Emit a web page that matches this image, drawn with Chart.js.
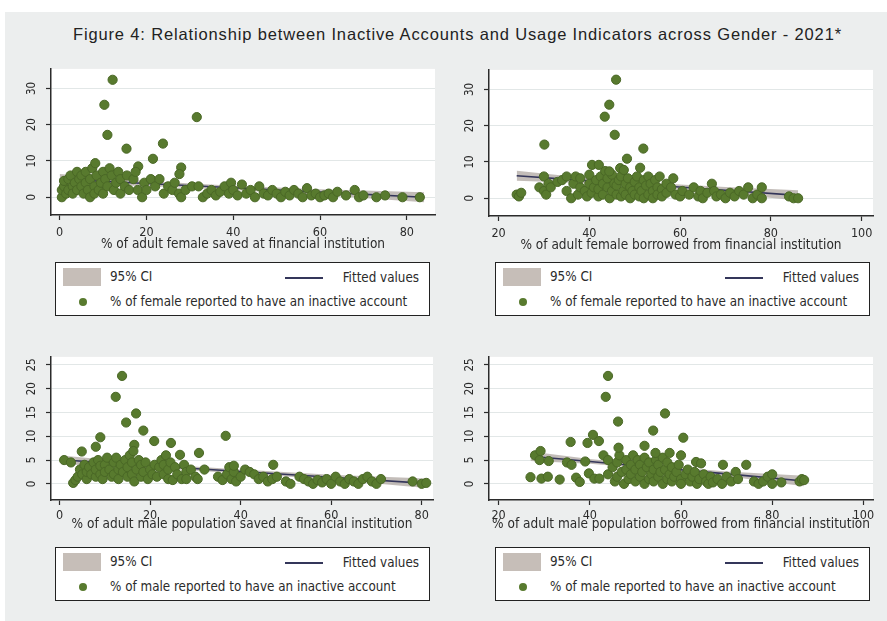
<!DOCTYPE html>
<html lang="en">
<head>
<meta charset="UTF-8">
<title>Figure 4</title>
<script src="https://cdn.jsdelivr.net/npm/chart.js"></script>
<style>
  body { margin:0; width:887px; height:621px; background:#fff; position:relative; overflow:hidden;
         font-family:"DejaVu Sans Condensed","Liberation Sans Narrow","Liberation Sans",sans-serif; color:#2b2b2b; }
  .frame { position:absolute; left:5px; top:12px; width:882px; height:609px; background:#eceeee; }
  .title { position:absolute; left:14px; top:25px; width:887px; text-align:center;
           font:16.5px "Liberation Sans", Arial, sans-serif; letter-spacing:0.85px; color:#222; }
  canvas { position:absolute; }
  .legend { position:absolute; width:375px; height:54px; background:#fff; border:1.5px solid #222;
            box-sizing:border-box; font-size:13.3px; }
  .legend .ci { position:absolute; left:7px; top:5px; width:38px; height:18px; background:#c6beb8; }
  .legend .ln { position:absolute; left:229px; top:14px; width:38px; height:2px; background:#34365a; }
  .legend .dot { position:absolute; left:23px; top:35px; width:8px; height:8px; border-radius:50%; background:#587a2e; }
  .legend span { position:absolute; line-height:15px; white-space:nowrap; }
  .legend .t1 { left:54px; top:6px; }
  .legend .t2 { right:10px; top:7px; }
  .legend .t3 { left:54px; top:31px; }
</style>
</head>
<body>
<div class="frame"></div>
<div class="title">Figure 4: Relationship between Inactive Accounts and Usage Indicators across Gender - 2021*</div>

<canvas id="c1"></canvas>
<canvas id="c2"></canvas>
<canvas id="c3"></canvas>
<canvas id="c4"></canvas>

<div class="legend" style="left:55px;top:262px">
  <div class="ci"></div><span class="t1">95% CI</span>
  <div class="ln"></div><span class="t2">Fitted values</span>
  <div class="dot"></div><span class="t3">% of female reported to have an inactive account</span>
</div>
<div class="legend" style="left:495px;top:262px">
  <div class="ci"></div><span class="t1">95% CI</span>
  <div class="ln"></div><span class="t2">Fitted values</span>
  <div class="dot"></div><span class="t3">% of female reported to have an inactive account</span>
</div>
<div class="legend" style="left:55px;top:547px">
  <div class="ci"></div><span class="t1">95% CI</span>
  <div class="ln"></div><span class="t2">Fitted values</span>
  <div class="dot"></div><span class="t3">% of male reported to have an inactive account</span>
</div>
<div class="legend" style="left:495px;top:547px">
  <div class="ci"></div><span class="t1">95% CI</span>
  <div class="ln"></div><span class="t2">Fitted values</span>
  <div class="dot"></div><span class="t3">% of male reported to have an inactive account</span>
</div>

<script>
// ---- panel 1: female saved at FI vs female inactive accounts
var fSavX = [0.5,0.5,1,1,1.5,2,2,2.5,3,3, 3.5,4,4,4.5,5,5,5.5,6,6,6.5, 7,7,7.5,8,8,8.5,9,9.5,10,10,
  10.5,11,11.5,12,12.5,13,13.5,14,14,15, 15.5,16,
  12.2,10.3,11,31.6,15.4,23.8,21.5,8.2,18.1,28,27.6,
  17,17.5,18,19,19.5,20,21,22,23,24, 25,26,26.5,27.5,28,29,30.5,32,33,34, 35,36,37,38,39,39.5,40,41,42,43,
  44,45,46,47,48,49,50,51,52,53, 54,55,56,57,58,59,60,61,62,63, 64,66,68,69,70,73,75,79,83];
var fSavY = [0,2,3,4.5,1,5,2,6,3,1, 4,7,2,5,3,6,1,4,7,2, 0,5,8,3,1,6,2,4,7,1,
  5,3,8,6,2,4,7,1,5,3, 6,2,
  32.4,25.5,17.2,22.1,13.4,14.8,10.6,9.4,8.5,8.2,6.4,
  5,7,2,0,4,2,5,3,5,1, 3,2,4,1,0,2,3,3,0,1, 2,0.5,1.5,3,1,4,2,0.5,3.5,1,
  2,0,3,1,0.5,2,1,0,1.5,0.5, 2,1,0,2.5,0.5,1,0,0.5,1,0, 1.5,0.5,2,0,0.5,0,0.5,0,0];
var fSavFitX = [0, 20, 40, 60, 84];
var fSavFit  = [5.0, 3.8, 2.6, 1.4, 0.0];
var fSavLo   = [3.6, 3.1, 2.0, 0.6, -1.4];
var fSavHi   = [6.4, 4.5, 3.2, 2.2, 1.4];

// ---- panel 2: female borrowed from FI vs female inactive accounts
var fBorX = [24,24.5,25,29,30,30,30.5,31,31.5,33, 34,35,35,36,36.5,37,37.5,38,38,39,
  39.5,40,40,40.5,41,41.5,42,42,42.5,43, 43,43.5,44,44,44.5,45,45,45.5,46,46,
  46.5,47,47,47.5,48,48,48.5,49,49,49.5, 50,50,50.5,51,51,51.5,52,52,52.5,53,
  53,53.5,54,54,54.5,55,55,55.5,56,56, 57,57,58,58.5,59,60,60.5,62,63,64,
  64.5,65,66,67,67.5,68,69,70,71,72, 73,74,75,76,77,78,78,84,85,86,
  45.9,44.4,43.4,45.6,30.1,51.9,48.3,40.6,42.1,46.8,47.6,51.2,44.4];
var fBorY = [1,0.5,1.5,3,2,6,1,4,3,4.5, 5,6,2,0,4,6,1,3,5.5,2,
  0.5,4,6.5,1.5,3,5,0.5,2.5,6,4, 1,7.5,3,5.5,0,2,6.5,4,1,3.5,
  5,0.5,6,2,4,1,5.5,3,0,2, 4.5,1,6,3,0.5,2,5,0,3.5,1,
  6,4,2,0,5,3,1,6,2.5,0.5, 4,1.5,3,5.5,1,0.5,2,1,3,0.5,
  2,0,1.5,4,2,0.5,1,0,1.5,0.5, 2,1,3,0,1,3,0,0.5,0,0,
  32.7,25.8,22.5,17.5,14.8,13.7,10.9,9.2,9.2,8.3,7.8,8.4,7.4];
var fBorFitX = [24, 40, 55, 70, 86];
var fBorFit  = [6.2, 4.8, 3.5, 2.2, 0.8];
var fBorLo   = [4.8, 4.1, 2.9, 1.3, -0.6];
var fBorHi   = [7.6, 5.5, 4.1, 3.1, 2.2];

// ---- panel 3: male saved at FI vs male inactive accounts
var mSavX = [1,2.5,3,3.5,4,4.5,5,5.5,6,6, 6.5,7,7.5,8,8,8.5,9,9,9.5,10,
  10,10.5,11,11.5,12,12,12.5,13,13,13.5, 14,14.5,15,15,15.5,16,16,16.5,17,17.5,
  18,18,18.5,19,19.5,20,20.5,21,21.5,22, 22.5,23,23,23.5,24,24,24.5,25,25.5,26,
  27,27.5,28,28,29,30,30.5,32,35,36, 37,37.5,38,38.5,39,40,41,42,43,44,
  45,46,47,48,50,51,53,54,55,56, 57,58,59,60,61,62,63,64,65,66, 67,68,69,70,71,78,80,81,
  13.8,12.4,16.9,14.7,18.5,36.7,9,8,20.9,24.6,4.9,30.8,26.6,16.5,16.3,47.2,38.5];
var mSavY = [5,4.5,0.2,0.8,1.5,3,2,4,1,2.5, 3.5,2,4.5,1.5,3,5,2,3.8,1,4,
  2.5,5.5,3,1.5,4.5,2,5.5,3,1,4, 2.5,5,1.5,3.5,6,2,4.5,0.5,3,5,
  1.5,4,2.5,4.5,1,3,2,4,1.5,3.5, 5,2,4,6,1,3,4.5,0.8,3.5,2,
  1,4,2.5,1,3,1.5,1,3,1.5,0.8, 2,3.5,1,2.5,0.5,1.5,3,2.5,2,1,
  1.5,0.5,1,1.5,0.5,0,1.5,1,0.5,0, 0.8,0.3,1,0,1.5,0.5,0,1,0.5,0, 1,1.5,0.5,0,1,0.5,0,0.2,
  22.7,18.3,14.8,12.9,11.2,10.1,9.8,7.8,9,8.6,6.8,6.5,6.1,8.2,6.9,4,3.8];
var mSavFitX = [1, 20, 40, 60, 81];
var mSavFit  = [5.0, 3.8, 2.6, 1.4, 0.1];
var mSavLo   = [4.1, 3.4, 2.2, 0.9, -0.9];
var mSavHi   = [5.9, 4.2, 3.0, 1.9, 1.1];

// ---- panel 4: male borrowed from FI vs male inactive accounts
var mBorX = [27,28,29,29.4,30.8,31,33.4,35,36,37, 37.8,39,39.8,41,42.1,43,44,44,45,45.5,
  46,46,46.5,47,47.5,48,48,48.5,49,49, 49.5,50,50,50.5,51,51,51.5,52,52,52.5,
  53,53,53.5,54,54,54.5,55,55,55.5,56, 56,56.5,57,57,57.5,58,58,58.5,59,59.5,
  60,60,61,61.5,62,62.5,63,63.5,64,65, 65.5,66,66.5,67,68,69,70,71,72,72.5,
  76,77,78,79,80,80,82,86,86.5,87,
  44,43.5,56.5,46.2,53.9,40.7,60.5,35.8,39.5,42,52,46.3,29.2,54.4,57.5,60,69.2,74.3,63.3,64.4];
var mBorY = [1.4,6,5,1.1,1.5,4.8,0.9,4.5,4,1.3, 0.4,4.7,2.2,1.1,1.1,6,5,2,3.5,0.5,
  4.5,1.5,6,2.5,0,5,3,1,4,2, 6,0.5,3,5,1.5,4,2.5,0,5.5,3.5,
  1,4.5,2,3,0.5,5,1.5,4,2.5,0, 5.5,3,1,4.5,2,3.5,0.5,1.5,2.5,4,
  1,0,2,3,0.5,1.5,2.5,0,1,2, 0.5,0,1.5,0.3,1,0,1.5,0.5,2.5,1,
  0.5,0,0.5,1.5,0,2,0.3,0.5,1,0.8,
  22.7,18.3,14.8,13.1,11.2,10.3,9.7,8.8,8.6,9,8,7.6,6.9,6.5,6.5,6,4,4,4.6,4.3];
var mBorFitX = [27, 40, 55, 70, 87];
var mBorFit  = [5.8, 4.7, 3.4, 2.1, 0.6];
var mBorLo   = [4.8, 4.2, 3.0, 1.6, -0.5];
var mBorHi   = [6.8, 5.2, 3.8, 2.6, 1.7];

// tick labels
var xTicksA = [0, 20, 40, 60, 80];
var xTicksB = [20, 40, 60, 80, 100];
var yTicksTop = [0, 10, 20, 30];
var yTicksBot = [0, 5, 10, 15, 20, 25];

var INK = '#2b2b2b';
var GREEN = '#587a2e';
var FONT = '"DejaVu Sans Condensed","Liberation Sans Narrow","Liberation Sans",sans-serif';

var whitePlot = {
  id: 'whitePlot',
  beforeDraw: function (chart) {
    var a = chart.chartArea, ctx = chart.ctx;
    ctx.save();
    ctx.fillStyle = '#ffffff';
    ctx.fillRect(a.left, a.top, a.right - a.left, a.bottom - a.top);
    ctx.restore();
  }
};

function pts(xs, ys) {
  return xs.map(function (x, i) { return {x: x, y: ys[i]}; });
}

function panel(p) {
  var YW = 35, PT = 10, PR = 12;
  var cv = document.getElementById(p.id);
  cv.width = (p.R - p.L) + YW + PR;
  cv.height = (p.B - p.T) + PT + p.xh;
  cv.style.left = (p.L - YW) + 'px';
  cv.style.top = (p.T - PT) + 'px';

  new Chart(cv, {
    type: 'scatter',
    data: {
      datasets: [
        { data: pts(p.xs, p.ys), pointRadius: 4.6, pointHoverRadius: 4.6,
          backgroundColor: GREEN, borderColor: '#4a6826', borderWidth: 1, order: 0 },
        { data: pts(p.fx, p.fy), showLine: true, pointRadius: 0,
          borderColor: '#34365a', borderWidth: 1.6, order: 1 },
        { data: pts(p.fx, p.hi), showLine: true, pointRadius: 0, borderColor: 'rgba(0,0,0,0)',
          borderWidth: 0, fill: '+1', backgroundColor: 'rgba(180,173,167,0.8)', order: 2 },
        { data: pts(p.fx, p.lo), showLine: true, pointRadius: 0, borderColor: 'rgba(0,0,0,0)',
          borderWidth: 0, order: 3 }
      ]
    },
    options: {
      responsive: false,
      animation: false,
      devicePixelRatio: 1,
      layout: { padding: { left: 0, top: PT, right: PR, bottom: 0 } },
      plugins: { legend: { display: false }, tooltip: { enabled: false } },
      scales: {
        x: {
          type: 'linear', min: p.xr[0], max: p.xr[1],
          afterBuildTicks: function (s) { s.ticks = p.xt.map(function (v) { return {value: v}; }); },
          afterFit: function (s) { s.height = p.xh; },
          grid: { drawOnChartArea: false, drawTicks: true, tickLength: 5, tickColor: INK, tickWidth: 1.2 },
          border: { display: true, color: INK, width: 1.5 },
          ticks: { color: INK, font: { family: FONT, size: 12.5 }, padding: p.tp, maxRotation: 0, autoSkip: false },
          title: { display: true, text: p.title, color: INK, font: { family: FONT, size: 13.5 },
                   padding: { top: 0, bottom: 0 } }
        },
        y: {
          type: 'linear', min: p.yr[0], max: p.yr[1],
          afterBuildTicks: function (s) { s.ticks = p.yt.map(function (v) { return {value: v}; }); },
          afterFit: function (s) { s.width = YW; },
          grid: { color: '#e2e7e7', lineWidth: 1, tickLength: 5, tickColor: INK, tickWidth: 1.2 },
          border: { display: true, color: INK, width: 1.5 },
          ticks: { color: INK, font: { family: FONT, size: 11.5 }, minRotation: 90, maxRotation: 90,
                   crossAlign: 'center', padding: 7, autoSkip: false }
        }
      }
    },
    plugins: [whitePlot]
  });
}

panel({ id: 'c1', L: 51, T: 65, R: 435, B: 215, xh: 38, tp: 5,
  xs: fSavX, ys: fSavY, fx: fSavFitX, fy: fSavFit, lo: fSavLo, hi: fSavHi,
  xr: [-2, 86.5], yr: [-4.9, 35.4], xt: xTicksA, yt: yTicksTop,
  title: '% of adult female saved at financial institution' });

panel({ id: 'c2', L: 489, T: 66, R: 873, B: 216, xh: 38, tp: 5,
  xs: fBorX, ys: fBorY, fx: fBorFitX, fy: fBorFit, lo: fBorLo, hi: fBorHi,
  xr: [17.9, 102.5], yr: [-4.9, 35.4], xt: xTicksB, yt: yTicksTop,
  title: '% of adult female borrowed from financial institution' });

panel({ id: 'c3', L: 51, T: 353, R: 433, B: 500, xh: 33, tp: 3,
  xs: mSavX, ys: mSavY, fx: mSavFitX, fy: mSavFit, lo: mSavLo, hi: mSavHi,
  xr: [-1.9, 82.5], yr: [-3.4, 26.7], xt: xTicksA, yt: yTicksBot,
  title: '% of adult male population saved at financial institution' });

panel({ id: 'c4', L: 489, T: 353, R: 873, B: 500, xh: 33, tp: 3,
  xs: mBorX, ys: mBorY, fx: mBorFitX, fy: mBorFit, lo: mBorLo, hi: mBorHi,
  xr: [17.9, 102.1], yr: [-3.4, 26.7], xt: xTicksB, yt: yTicksBot,
  title: '% of adult male population borrowed from financial institution' });
</script>
</body>
</html>
